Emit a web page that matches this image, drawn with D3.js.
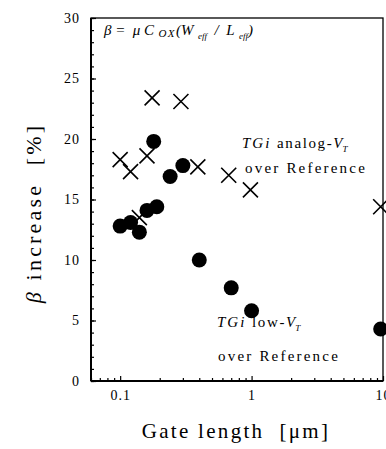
<!DOCTYPE html>
<html>
<head>
<meta charset="utf-8">
<script src="https://cdn.jsdelivr.net/npm/d3@7"></script>
<style>
  body { margin: 0; background: #fff; }
  svg { display: block; font-family: "Liberation Serif", "DejaVu Serif", serif; }
  text { white-space: pre; }
</style>
</head>
<body>
<svg id="chart"></svg>
<script>
// gate length [um] and beta increase [%]
const lowVtGate = [0.1, 0.12, 0.14, 0.16, 0.19, 0.18, 0.24, 0.3, 0.4, 0.7, 1.0, 9.6];
const lowVtBeta = [12.8, 13.1, 12.3, 14.1, 14.4, 19.8, 16.9, 17.8, 10.0, 7.7, 5.8, 4.3];
const analogGate = [0.1, 0.12, 0.14, 0.16, 0.175, 0.29, 0.39, 0.67, 0.98, 9.6];
const analogBeta = [18.3, 17.3, 13.5, 18.6, 23.4, 23.1, 17.7, 17.0, 15.8, 14.4];
const yTicks = [0, 5, 10, 15, 20, 25, 30];
const xTicks = [0.1, 1, 10];
const xTickLabels = ["0.1", "1", "10"];

const W = 386, H = 449;
const margin = {top: 18, right: 3, bottom: 68, left: 91};
const width = W - margin.left - margin.right;
const height = H - margin.top - margin.bottom;

const svg = d3.select("#chart").attr("width", W).attr("height", H);
const g = svg.append("g").attr("transform", `translate(${margin.left},${margin.top})`);

const x = d3.scaleLog().domain([0.06, 10]).range([0, width]);
const y = d3.scaleLinear().domain([0, 30]).range([height, 0]);

// minor ticks
const xMinor = [];
[0.01, 0.1, 1].forEach(d => { for (let k = 2; k <= 9; k++) { const v = d * k; if (v >= 0.06 && v < 10) xMinor.push(v); } });
g.append("g")
    .attr("transform", `translate(0,${height})`)
    .call(d3.axisBottom(x).tickValues(xMinor).tickSize(-3).tickFormat(""))
    .call(a => a.select(".domain").remove());
g.append("g")
    .call(d3.axisLeft(y).tickValues(d3.range(0, 31, 1)).tickSize(-3).tickFormat(""))
    .call(a => a.select(".domain").remove());

// major axes
g.append("g")
    .attr("transform", `translate(0,${height})`)
    .call(d3.axisBottom(x).tickValues(xTicks).tickSize(-5).tickPadding(9)
        .tickFormat((d, i) => xTickLabels[i]))
    .attr("font-family", null)
    .call(a => a.select(".domain").remove())
    .selectAll("text")
    .style("font-size", "14px")
    .style("letter-spacing", "1px");

g.append("g")
    .call(d3.axisLeft(y).tickValues(yTicks).tickSize(-5).tickPadding(11))
    .attr("font-family", null)
    .call(a => a.select(".domain").remove())
    .selectAll("text")
    .style("font-size", "14px")
    .style("letter-spacing", "1px");

g.selectAll(".tick line").attr("stroke", "#000").attr("stroke-width", 1.2);

// frame
g.append("rect")
    .attr("width", width).attr("height", height)
    .attr("fill", "none").attr("stroke", "#000").attr("stroke-width", 1.3);
g.append("line").attr("x1", 0).attr("x2", 0).attr("y1", 0).attr("y2", height)
    .attr("stroke", "#000").attr("stroke-width", 2);
g.append("line").attr("x1", 0).attr("x2", width).attr("y1", height).attr("y2", height)
    .attr("stroke", "#000").attr("stroke-width", 1.8);

// low-VT circles
g.selectAll(".dot")
    .data(lowVtGate.map((d, i) => [d, lowVtBeta[i]]))
    .join("circle")
    .attr("class", "dot")
    .attr("cx", d => x(d[0]))
    .attr("cy", d => y(d[1]))
    .attr("r", 7.5)
    .attr("fill", "#000");

// analog-VT crosses
const s = 7.5;
g.selectAll(".cross")
    .data(analogGate.map((d, i) => [d, analogBeta[i]]))
    .join("path")
    .attr("class", "cross")
    .attr("d", d => {
        const cx = x(d[0]), cy = y(d[1]);
        return `M${cx - s},${cy - s}L${cx + s},${cy + s}M${cx - s},${cy + s}L${cx + s},${cy - s}`;
    })
    .attr("stroke", "#000")
    .attr("stroke-width", 1.6)
    .attr("fill", "none");

// formula
const f = svg.append("text").attr("x", 104).attr("y", 35)
    .style("font-size", "15px").style("font-style", "italic");
f.append("tspan").text("β =  μ C");
f.append("tspan").text(" OX").style("font-size", "11px").style("letter-spacing", "1.5px").attr("dy", 2);
f.append("tspan").text("(W").attr("dy", -2);
f.append("tspan").text("  eff").style("font-size", "9px").attr("dy", 4);
f.append("tspan").text("  /  L").attr("dy", -4);
f.append("tspan").text("  eff").style("font-size", "9px").attr("dy", 4);
f.append("tspan").text(")").attr("dy", -4);

// annotation labels
function label(xp, yp, kind) {
    const t = svg.append("text").attr("x", xp).attr("y", yp).style("font-size", "15px");
    t.append("tspan").text("TGi ").style("font-style", "italic").style("letter-spacing", "2px");
    t.append("tspan").text(kind + "-").style("letter-spacing", "1.6px");
    t.append("tspan").text("V").style("font-style", "italic");
    t.append("tspan").text("T").style("font-size", "9px").style("font-style", "italic").attr("dy", 4);
}
label(242, 148, "analog");
svg.append("text").attr("x", 245).attr("y", 173).style("font-size", "15px")
    .style("letter-spacing", "2.2px").text("over Reference");
label(217, 327, "low");
svg.append("text").attr("x", 218).attr("y", 361).style("font-size", "15px")
    .style("letter-spacing", "2.2px").text("over Reference");

// axis titles
svg.append("text")
    .attr("x", 236).attr("y", 438)
    .attr("text-anchor", "middle")
    .style("font-size", "21px")
    .style("letter-spacing", "2.3px")
    .text("Gate length  [μm]");

const yl = svg.append("text")
    .attr("transform", "translate(41,213) rotate(-90)")
    .attr("text-anchor", "middle")
    .style("font-size", "22px")
    .style("letter-spacing", "3.2px");
yl.append("tspan").text("β").style("font-style", "italic");
yl.append("tspan").text(" increase  [%]");
</script>
</body>
</html>
